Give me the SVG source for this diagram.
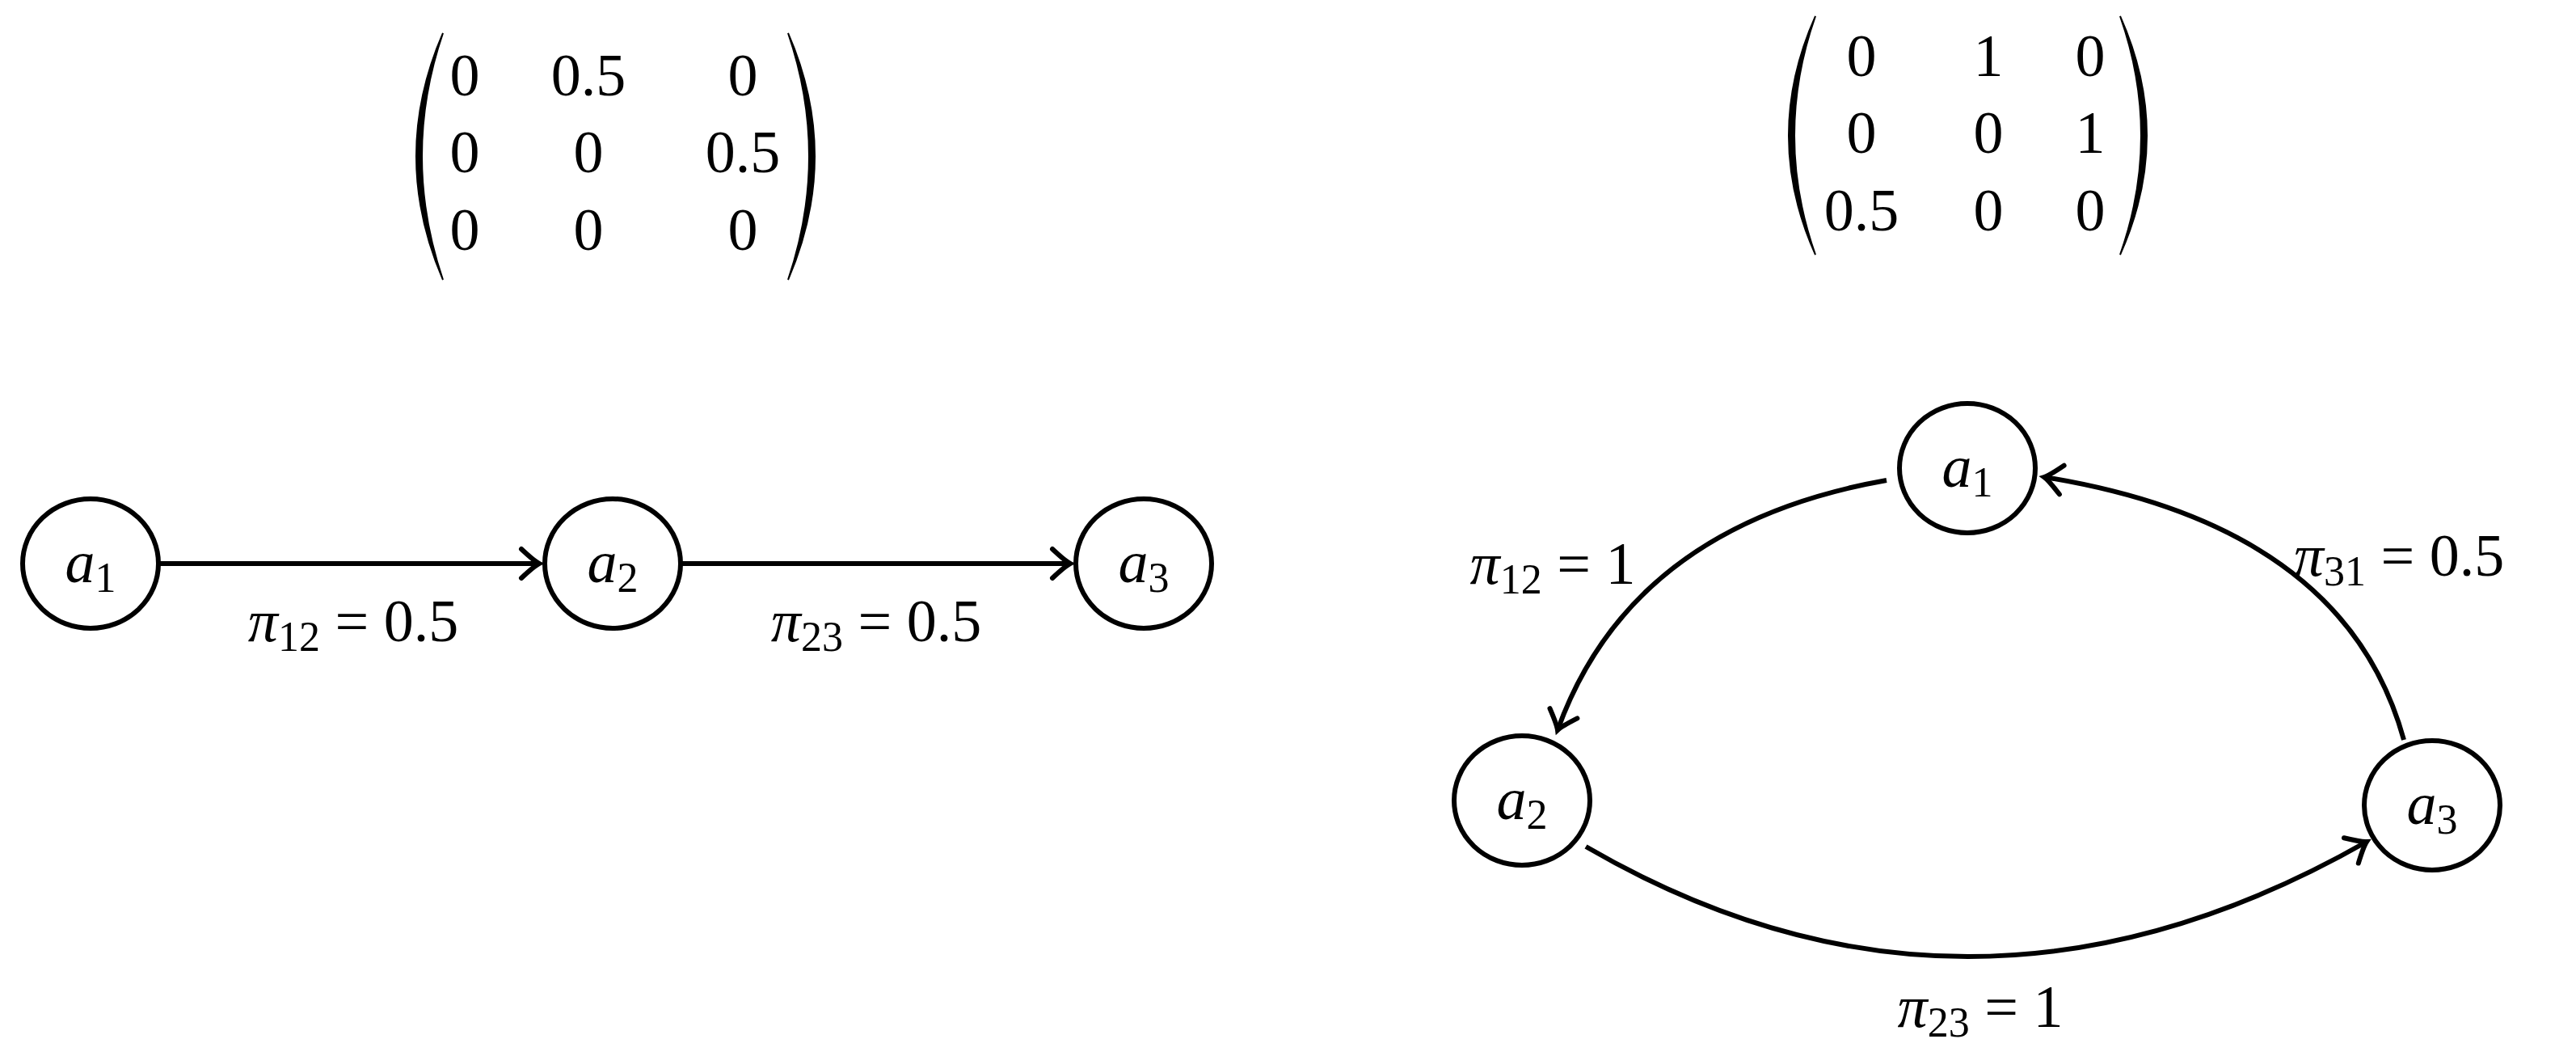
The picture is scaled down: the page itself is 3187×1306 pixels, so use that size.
<svg xmlns="http://www.w3.org/2000/svg" width="3187" height="1306" viewBox="0 0 3187 1306">
<style>
.t{font-family:"Liberation Serif","DejaVu Serif",serif;font-size:74px;fill:#000}
.m{text-anchor:middle}
.i{font-style:italic}
.s{font-size:52px}
.n{fill:#fff;stroke:#000;stroke-width:6}
.e{fill:none;stroke:#000;stroke-width:6;marker-end:url(#ah)}
.p{fill:#000;stroke:#000;stroke-width:2}
</style>
<defs>
<marker id="ah" markerUnits="userSpaceOnUse" viewBox="-30 -25 36 50" markerWidth="36" markerHeight="50" refX="0" refY="0" orient="auto" overflow="visible">
<path d="M-22,-18 Q-6,-3 0,0 Q-6,3 -22,18" fill="none" stroke="#000" stroke-width="6" stroke-linecap="round"/>
</marker>
</defs>
<rect width="3187" height="1306" fill="#fff"/>
<g id="matrix-left">
<path class="p" d="M548,41 Q482,193 548,346 Q496,193 548,41Z"/>
<path class="p" d="M975,41 Q1041,193 975,346 Q1027,193 975,41Z"/>
<g class="t m">
<text x="575" y="118">0</text><text x="728" y="118">0.5</text><text x="919" y="118">0</text>
<text x="575" y="213">0</text><text x="728" y="213">0</text><text x="919" y="213">0.5</text>
<text x="575" y="309">0</text><text x="728" y="309">0</text><text x="919" y="309">0</text>
</g>
</g>
<g id="matrix-right">
<path class="p" d="M2246,20 Q2180,168 2246,315 Q2194,168 2246,20Z"/>
<path class="p" d="M2623,20 Q2689,168 2623,315 Q2675,168 2623,20Z"/>
<g class="t m">
<text x="2303" y="94">0</text><text x="2460" y="94">1</text><text x="2586" y="94">0</text>
<text x="2303" y="189">0</text><text x="2460" y="189">0</text><text x="2586" y="189">1</text>
<text x="2303" y="285">0.5</text><text x="2460" y="285">0</text><text x="2586" y="285">0</text>
</g>
</g>
<g id="connectors">
<path class="e" d="M197,697 L667,697"/>
<path class="e" d="M843,697 L1324,697"/>
<path class="e" d="M2334,594 Q2018,650 1927,903"/>
<path class="e" d="M1962,1047 Q2435,1322 2928,1041"/>
<path class="e" d="M2974,915 Q2901,650 2529,590"/>
<text class="t m" x="437" y="793"><tspan class="i">π</tspan><tspan class="s" dy="12">12</tspan><tspan dy="-12"> = 0.5</tspan></text>
<text class="t m" x="1084" y="793"><tspan class="i">π</tspan><tspan class="s" dy="12">23</tspan><tspan dy="-12"> = 0.5</tspan></text>
<text class="t m" x="1921" y="722"><tspan class="i">π</tspan><tspan class="s" dy="12">12</tspan><tspan dy="-12"> = 1</tspan></text>
<text class="t m" x="2968" y="712"><tspan class="i">π</tspan><tspan class="s" dy="12">31</tspan><tspan dy="-12"> = 0.5</tspan></text>
<text class="t m" x="2450" y="1270"><tspan class="i">π</tspan><tspan class="s" dy="12">23</tspan><tspan dy="-12"> = 1</tspan></text>
</g>
<g id="L-a1"><ellipse class="n" cx="112" cy="697" rx="84" ry="80"/><text class="t m" x="112" y="720"><tspan class="i">a</tspan><tspan class="s" dy="12">1</tspan></text></g>
<g id="L-a2"><ellipse class="n" cx="758" cy="697" rx="84" ry="80"/><text class="t m" x="758" y="720"><tspan class="i">a</tspan><tspan class="s" dy="12">2</tspan></text></g>
<g id="L-a3"><ellipse class="n" cx="1415" cy="697" rx="84" ry="80"/><text class="t m" x="1415" y="720"><tspan class="i">a</tspan><tspan class="s" dy="12">3</tspan></text></g>
<g id="R-a1"><ellipse class="n" cx="2434" cy="579" rx="84" ry="80"/><text class="t m" x="2434" y="602"><tspan class="i">a</tspan><tspan class="s" dy="12">1</tspan></text></g>
<g id="R-a2"><ellipse class="n" cx="1883" cy="990" rx="84" ry="80"/><text class="t m" x="1883" y="1013"><tspan class="i">a</tspan><tspan class="s" dy="12">2</tspan></text></g>
<g id="R-a3"><ellipse class="n" cx="3009" cy="996" rx="84" ry="80"/><text class="t m" x="3009" y="1019"><tspan class="i">a</tspan><tspan class="s" dy="12">3</tspan></text></g>
</svg>
